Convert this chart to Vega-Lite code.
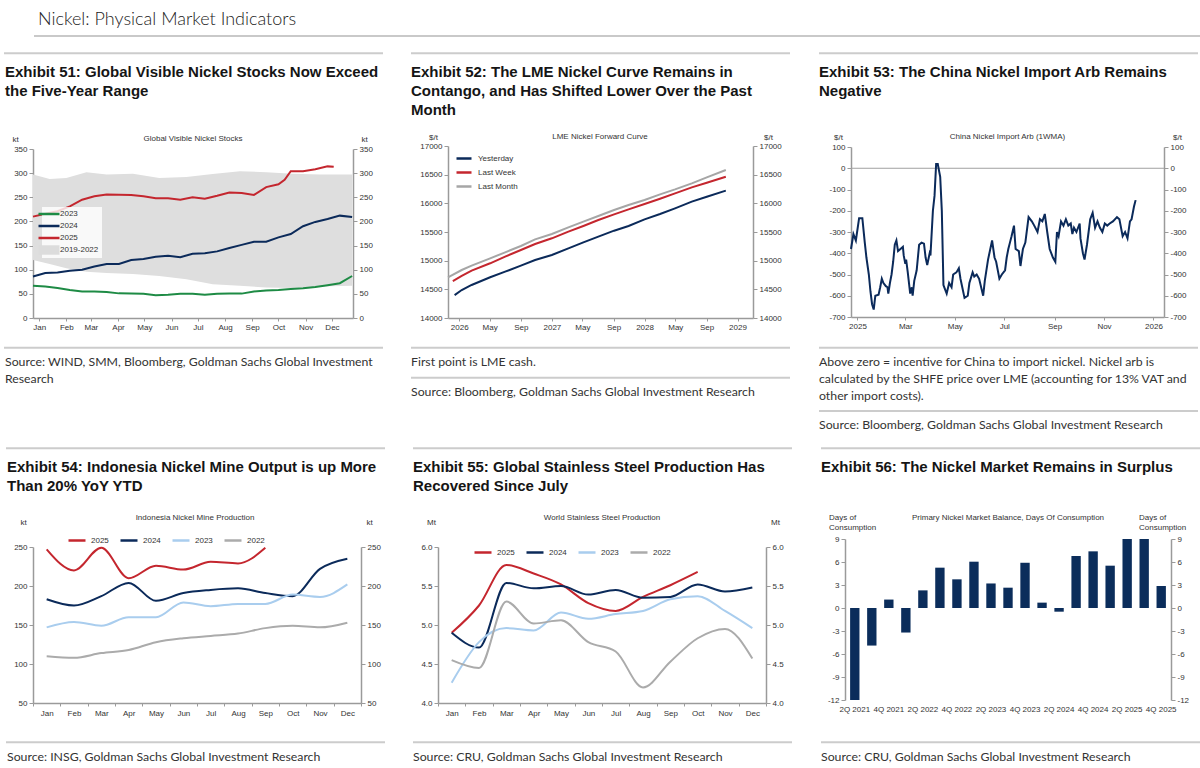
{
"$schema": "https://vega.github.io/schema/vega-lite/v6.json",
"background": "white",
"padding": 0,
"spacing": 0,
"columns": 1,
"align": "none",
"resolve": {"scale": {"color": "independent"}, "legend": {"color": "independent"}},
"config": {
  "view": {"stroke": null},
  "font": "Liberation Sans",
  "axis": {"labelFont": "Liberation Sans", "labelFontSize": 8, "labelColor": "#333333", "titleFont": "Liberation Sans", "titleFontSize": 8, "titleFontWeight": "normal", "titleColor": "#333333", "domainColor": "#9a9a9a", "domainWidth": 1.5, "tickColor": "#9a9a9a", "tickSize": 4, "tickWidth": 1, "grid": false, "labelPadding": 2},
  "legend": {"labelFont": "Liberation Sans", "labelFontSize": 8, "labelColor": "#333333"}
},
"concat": [
 {
  "width": 1200, "height": 38,
  "data": {"values": [{}]},
  "layer": [
   {"mark": {"type": "rule", "strokeOpacity": 0}, "encoding": {"x": {"value": 0}, "x2": {"value": 1200}, "y": {"value": 0}}},
   {"mark": {"type": "rule", "strokeOpacity": 0}, "encoding": {"x": {"value": 0}, "x2": {"value": 1200}, "y": {"value": 38}}},
   {"mark": {"type": "rule", "color": "#c9c9c9", "strokeWidth": 2}, "encoding": {"x": {"value": 1}, "x2": {"value": 1200}, "y": {"value": 36}}},
   {"mark": {"type": "text", "text": "Nickel: Physical Market Indicators", "font": "Lato", "fontWeight": 300, "fontSize": 18, "align": "left", "baseline": "alphabetic", "color": "#222222"}, "encoding": {"x": {"value": 5}, "y": {"value": 25}}}
  ]
 },
 {
  "resolve": {"scale": {"color": "independent"}, "legend": {"color": "independent"}},
  "columns": 3, "align": "none", "spacing": 26,
  "concat": [
   {
    "width": 320, "height": 172,
    "data": {"values": [{}]},
    "resolve": {"axis": {"y": "independent"}},
    "layer": [
     {"mark": {"type": "rule", "strokeOpacity": 0}, "encoding": {"x": {"value": -33}, "x2": {"value": 351}, "y": {"value": -108}}},
     {"mark": {"type": "rule", "strokeOpacity": 0}, "encoding": {"x": {"value": -33}, "x2": {"value": 351}, "y": {"value": 300}}},
     {"mark": {"type": "rule", "color": "#cccccc", "strokeWidth": 2}, "encoding": {"x": {"value": -29}, "x2": {"value": 350}, "y": {"value": -92.7}}},
     {"mark": {"type": "text", "text": "Exhibit 51: Global Visible Nickel Stocks Now Exceed", "font": "Liberation Sans", "fontSize": 15, "fontWeight": "bold", "align": "left", "baseline": "alphabetic", "color": "#151515"}, "encoding": {"x": {"value": -28}, "y": {"value": -69}}},
     {"mark": {"type": "text", "text": "the Five-Year Range", "font": "Liberation Sans", "fontSize": 15, "fontWeight": "bold", "align": "left", "baseline": "alphabetic", "color": "#151515"}, "encoding": {"x": {"value": -28}, "y": {"value": -50}}},
     {"mark": {"type": "text", "text": "Global Visible Nickel Stocks", "font": "Liberation Sans", "fontSize": 8, "align": "center", "baseline": "alphabetic", "color": "#333333"}, "encoding": {"x": {"value": 160}, "y": {"value": -5}}},
     {"mark": {"type": "rule", "color": "#cccccc", "strokeWidth": 2}, "encoding": {"x": {"value": -29}, "x2": {"value": 350}, "y": {"value": 201.7}}},
     {"mark": {"type": "text", "text": "Source: WIND, SMM, Bloomberg, Goldman Sachs Global Investment", "font": "Lato", "fontSize": 12.3, "align": "left", "baseline": "alphabetic", "color": "#333333"}, "encoding": {"x": {"value": -28}, "y": {"value": 220}}},
     {"mark": {"type": "text", "text": "Research", "font": "Lato", "fontSize": 12.3, "align": "left", "baseline": "alphabetic", "color": "#333333"}, "encoding": {"x": {"value": -28}, "y": {"value": 236.5}}},
     {
      "data": {"values": [
       {"date": "2024-12-25", "hi": 297, "lo": 120},
       {"date": "2025-01-13", "hi": 288, "lo": 112},
       {"date": "2025-02-01", "hi": 290, "lo": 103},
       {"date": "2025-02-24", "hi": 302, "lo": 96},
       {"date": "2025-03-19", "hi": 297, "lo": 93},
       {"date": "2025-04-18", "hi": 299, "lo": 91},
       {"date": "2025-05-18", "hi": 290, "lo": 87},
       {"date": "2025-06-18", "hi": 292, "lo": 80},
       {"date": "2025-07-18", "hi": 298, "lo": 70},
       {"date": "2025-08-18", "hi": 304, "lo": 67},
       {"date": "2025-09-17", "hi": 302, "lo": 63},
       {"date": "2025-10-17", "hi": 299, "lo": 62},
       {"date": "2025-11-17", "hi": 297, "lo": 65},
       {"date": "2025-12-24", "hi": 297, "lo": 67}
      ]},
      "mark": {"type": "area", "color": "#dedede"},
      "encoding": {
       "x": {"field": "date", "type": "temporal", "scale": {"type": "utc", "domain": [{"year": 2024, "month": 12, "date": 25, "utc": true}, {"year": 2025, "month": 12, "date": 25, "utc": true}]}, "axis": {"tickCount": {"interval": "month", "step": 1}, "labelExpr": "utcFormat(datum.value, '%b')", "title": null, "tickSize": 3, "labelOverlap": false}},
       "y": {"field": "hi", "type": "quantitative", "scale": {"domain": [0, 350], "nice": false, "range": [172, 3]}, "axis": {"orient": "right", "values": [0, 50, 100, 150, 200, 250, 300, 350], "labelExpr": "toString(datum.value)", "title": "kt", "titleAngle": 0, "titleAlign": "center", "titleBaseline": "alphabetic", "titleX": 11, "titleY": -5}},
       "y2": {"field": "lo"}
      }
     },
     {
      "data": {"values": [
       {"date": "2024-12-25", "series": "2023", "value": 67}, {"date": "2025-01-08", "series": "2023", "value": 65}, {"date": "2025-01-22", "series": "2023", "value": 62}, {"date": "2025-02-05", "series": "2023", "value": 58}, {"date": "2025-02-19", "series": "2023", "value": 55}, {"date": "2025-03-05", "series": "2023", "value": 55}, {"date": "2025-03-19", "series": "2023", "value": 54}, {"date": "2025-04-02", "series": "2023", "value": 51}, {"date": "2025-04-16", "series": "2023", "value": 50.5}, {"date": "2025-04-30", "series": "2023", "value": 50}, {"date": "2025-05-14", "series": "2023", "value": 47}, {"date": "2025-05-28", "series": "2023", "value": 48}, {"date": "2025-06-11", "series": "2023", "value": 50}, {"date": "2025-06-25", "series": "2023", "value": 50}, {"date": "2025-07-09", "series": "2023", "value": 48}, {"date": "2025-07-23", "series": "2023", "value": 50}, {"date": "2025-08-06", "series": "2023", "value": 50.5}, {"date": "2025-08-20", "series": "2023", "value": 50.5}, {"date": "2025-09-03", "series": "2023", "value": 55}, {"date": "2025-09-17", "series": "2023", "value": 57}, {"date": "2025-10-01", "series": "2023", "value": 58}, {"date": "2025-10-15", "series": "2023", "value": 60}, {"date": "2025-10-29", "series": "2023", "value": 61.5}, {"date": "2025-11-12", "series": "2023", "value": 64}, {"date": "2025-11-26", "series": "2023", "value": 68}, {"date": "2025-12-10", "series": "2023", "value": 72}, {"date": "2025-12-24", "series": "2023", "value": 87},
       {"date": "2024-12-25", "series": "2024", "value": 86}, {"date": "2025-01-08", "series": "2024", "value": 93}, {"date": "2025-01-22", "series": "2024", "value": 94}, {"date": "2025-02-05", "series": "2024", "value": 98}, {"date": "2025-02-19", "series": "2024", "value": 100}, {"date": "2025-03-05", "series": "2024", "value": 106.5}, {"date": "2025-03-19", "series": "2024", "value": 112}, {"date": "2025-04-02", "series": "2024", "value": 112}, {"date": "2025-04-16", "series": "2024", "value": 120}, {"date": "2025-04-30", "series": "2024", "value": 122}, {"date": "2025-05-14", "series": "2024", "value": 127}, {"date": "2025-05-28", "series": "2024", "value": 129}, {"date": "2025-06-11", "series": "2024", "value": 126}, {"date": "2025-06-25", "series": "2024", "value": 133}, {"date": "2025-07-09", "series": "2024", "value": 134}, {"date": "2025-07-23", "series": "2024", "value": 138}, {"date": "2025-08-06", "series": "2024", "value": 145}, {"date": "2025-08-20", "series": "2024", "value": 151.5}, {"date": "2025-09-03", "series": "2024", "value": 158}, {"date": "2025-09-17", "series": "2024", "value": 158}, {"date": "2025-10-01", "series": "2024", "value": 167}, {"date": "2025-10-15", "series": "2024", "value": 174}, {"date": "2025-10-29", "series": "2024", "value": 190}, {"date": "2025-11-12", "series": "2024", "value": 199}, {"date": "2025-11-26", "series": "2024", "value": 205}, {"date": "2025-12-10", "series": "2024", "value": 212}, {"date": "2025-12-24", "series": "2024", "value": 209},
       {"date": "2024-12-25", "series": "2025", "value": 210}, {"date": "2025-01-08", "series": "2025", "value": 216}, {"date": "2025-01-22", "series": "2025", "value": 221}, {"date": "2025-02-05", "series": "2025", "value": 231}, {"date": "2025-02-19", "series": "2025", "value": 245}, {"date": "2025-03-05", "series": "2025", "value": 252}, {"date": "2025-03-19", "series": "2025", "value": 256}, {"date": "2025-04-02", "series": "2025", "value": 255}, {"date": "2025-04-16", "series": "2025", "value": 254.5}, {"date": "2025-04-30", "series": "2025", "value": 252}, {"date": "2025-05-14", "series": "2025", "value": 248}, {"date": "2025-05-28", "series": "2025", "value": 248}, {"date": "2025-06-11", "series": "2025", "value": 245}, {"date": "2025-06-25", "series": "2025", "value": 250}, {"date": "2025-07-09", "series": "2025", "value": 247}, {"date": "2025-07-23", "series": "2025", "value": 253}, {"date": "2025-08-06", "series": "2025", "value": 260}, {"date": "2025-08-20", "series": "2025", "value": 259}, {"date": "2025-09-03", "series": "2025", "value": 255}, {"date": "2025-09-17", "series": "2025", "value": 271}, {"date": "2025-10-01", "series": "2025", "value": 277}, {"date": "2025-10-08", "series": "2025", "value": 286}, {"date": "2025-10-15", "series": "2025", "value": 304}, {"date": "2025-10-29", "series": "2025", "value": 304}, {"date": "2025-11-12", "series": "2025", "value": 308}, {"date": "2025-11-26", "series": "2025", "value": 314}, {"date": "2025-12-03", "series": "2025", "value": 313}
      ]},
      "mark": {"type": "line", "strokeWidth": 2},
      "encoding": {
       "x": {"field": "date", "type": "temporal"},
       "y": {"field": "value", "type": "quantitative", "axis": {"orient": "left", "values": [0, 50, 100, 150, 200, 250, 300, 350], "labelExpr": "toString(datum.value)", "title": "kt", "titleAngle": 0, "titleAlign": "center", "titleBaseline": "alphabetic", "titleX": -18, "titleY": -5}},
       "color": {"field": "series", "type": "nominal", "scale": {"domain": ["2023", "2024", "2025", "2019-2022"], "range": ["#1e8b45", "#0b2a5a", "#c4262e", "#dcdcdc"]},
        "legend": {"title": null, "orient": "none", "legendX": 9, "legendY": 61, "symbolType": "stroke", "symbolSize": 441, "symbolStrokeWidth": 2.5, "labelOffset": 7, "rowPadding": 2, "padding": 3, "fillColor": "rgba(255,255,255,0.8)",
         "encode": {"symbols": {"update": {
          "shape": {"signal": "datum.value === '2019-2022' ? 'M-1,-0.45H1V0.45H-1Z' : 'stroke'"},
          "fill": {"signal": "datum.value === '2019-2022' ? '#dcdcdc' : 'transparent'"},
          "strokeWidth": {"signal": "datum.value === '2019-2022' ? 0 : 2.5"}
         }}}}}
      }
     }
    ]
   },
   {
    "width": 305, "height": 172,
    "data": {"values": [{}]},
    "resolve": {"axis": {"y": "independent"}},
    "layer": [
     {"mark": {"type": "rule", "strokeOpacity": 0}, "encoding": {"x": {"value": -38}, "x2": {"value": 344}, "y": {"value": -108}}},
     {"mark": {"type": "rule", "strokeOpacity": 0}, "encoding": {"x": {"value": -38}, "x2": {"value": 344}, "y": {"value": 300}}},
     {"mark": {"type": "rule", "color": "#cccccc", "strokeWidth": 2}, "encoding": {"x": {"value": -37}, "x2": {"value": 342}, "y": {"value": -92.7}}},
     {"mark": {"type": "text", "text": "Exhibit 52: The LME Nickel Curve Remains in", "font": "Liberation Sans", "fontSize": 15, "fontWeight": "bold", "align": "left", "baseline": "alphabetic", "color": "#151515"}, "encoding": {"x": {"value": -37}, "y": {"value": -69}}},
     {"mark": {"type": "text", "text": "Contango, and Has Shifted Lower Over the Past", "font": "Liberation Sans", "fontSize": 15, "fontWeight": "bold", "align": "left", "baseline": "alphabetic", "color": "#151515"}, "encoding": {"x": {"value": -37}, "y": {"value": -50}}},
     {"mark": {"type": "text", "text": "Month", "font": "Liberation Sans", "fontSize": 15, "fontWeight": "bold", "align": "left", "baseline": "alphabetic", "color": "#151515"}, "encoding": {"x": {"value": -37}, "y": {"value": -31}}},
     {"mark": {"type": "text", "text": "LME Nickel Forward Curve", "font": "Liberation Sans", "fontSize": 8, "align": "center", "baseline": "alphabetic", "color": "#333333"}, "encoding": {"x": {"value": 152}, "y": {"value": -7}}},
     {"mark": {"type": "rule", "color": "#cccccc", "strokeWidth": 2}, "encoding": {"x": {"value": -37}, "x2": {"value": 342}, "y": {"value": 201.7}}},
     {"mark": {"type": "text", "text": "First point is LME cash.", "font": "Lato", "fontSize": 12.3, "align": "left", "baseline": "alphabetic", "color": "#333333"}, "encoding": {"x": {"value": -37}, "y": {"value": 220}}},
     {"mark": {"type": "rule", "color": "#cccccc", "strokeWidth": 2}, "encoding": {"x": {"value": -37}, "x2": {"value": 342}, "y": {"value": 231.7}}},
     {"mark": {"type": "text", "text": "Source: Bloomberg, Goldman Sachs Global Investment Research", "font": "Lato", "fontSize": 12.3, "align": "left", "baseline": "alphabetic", "color": "#333333"}, "encoding": {"x": {"value": -37}, "y": {"value": 250}}},
     {
      "data": {"values": [
       {"date": "2025-12-14", "series": "Yesterday", "price": 14400}, {"date": "2026-01-11", "series": "Yesterday", "price": 14488}, {"date": "2026-02-19", "series": "Yesterday", "price": 14576}, {"date": "2026-05-03", "series": "Yesterday", "price": 14710}, {"date": "2026-07-01", "series": "Yesterday", "price": 14808}, {"date": "2026-09-01", "series": "Yesterday", "price": 14913}, {"date": "2026-10-27", "series": "Yesterday", "price": 15012}, {"date": "2027-01-01", "series": "Yesterday", "price": 15099}, {"date": "2027-03-07", "series": "Yesterday", "price": 15215}, {"date": "2027-05-05", "series": "Yesterday", "price": 15320}, {"date": "2027-07-03", "series": "Yesterday", "price": 15419}, {"date": "2027-09-03", "series": "Yesterday", "price": 15523}, {"date": "2027-10-30", "series": "Yesterday", "price": 15605}, {"date": "2028-01-01", "series": "Yesterday", "price": 15721}, {"date": "2028-03-02", "series": "Yesterday", "price": 15814}, {"date": "2028-04-30", "series": "Yesterday", "price": 15913}, {"date": "2028-07-05", "series": "Yesterday", "price": 16029}, {"date": "2028-09-02", "series": "Yesterday", "price": 16116}, {"date": "2028-11-16", "series": "Yesterday", "price": 16221},
       {"date": "2025-12-07", "series": "Last Week", "price": 14645}, {"date": "2026-01-11", "series": "Last Week", "price": 14733}, {"date": "2026-02-19", "series": "Last Week", "price": 14826}, {"date": "2026-05-03", "series": "Last Week", "price": 14954}, {"date": "2026-07-01", "series": "Last Week", "price": 15070}, {"date": "2026-09-01", "series": "Last Week", "price": 15186}, {"date": "2026-10-27", "series": "Last Week", "price": 15291}, {"date": "2027-01-01", "series": "Last Week", "price": 15390}, {"date": "2027-03-07", "series": "Last Week", "price": 15506}, {"date": "2027-05-05", "series": "Last Week", "price": 15605}, {"date": "2027-07-03", "series": "Last Week", "price": 15709}, {"date": "2027-09-03", "series": "Last Week", "price": 15808}, {"date": "2027-10-30", "series": "Last Week", "price": 15895}, {"date": "2028-01-01", "series": "Last Week", "price": 15988}, {"date": "2028-03-02", "series": "Last Week", "price": 16081}, {"date": "2028-04-30", "series": "Last Week", "price": 16174}, {"date": "2028-07-05", "series": "Last Week", "price": 16279}, {"date": "2028-09-02", "series": "Last Week", "price": 16360}, {"date": "2028-11-16", "series": "Last Week", "price": 16465},
       {"date": "2025-11-18", "series": "Last Month", "price": 14710}, {"date": "2026-01-11", "series": "Last Month", "price": 14837}, {"date": "2026-02-19", "series": "Last Month", "price": 14913}, {"date": "2026-05-03", "series": "Last Month", "price": 15041}, {"date": "2026-07-01", "series": "Last Month", "price": 15145}, {"date": "2026-09-01", "series": "Last Month", "price": 15256}, {"date": "2026-10-27", "series": "Last Month", "price": 15372}, {"date": "2027-01-01", "series": "Last Month", "price": 15465}, {"date": "2027-03-07", "series": "Last Month", "price": 15581}, {"date": "2027-05-05", "series": "Last Month", "price": 15680}, {"date": "2027-07-03", "series": "Last Month", "price": 15779}, {"date": "2027-09-03", "series": "Last Month", "price": 15884}, {"date": "2027-10-30", "series": "Last Month", "price": 15971}, {"date": "2028-01-01", "series": "Last Month", "price": 16058}, {"date": "2028-03-02", "series": "Last Month", "price": 16157}, {"date": "2028-04-30", "series": "Last Month", "price": 16244}, {"date": "2028-07-05", "series": "Last Month", "price": 16349}, {"date": "2028-09-02", "series": "Last Month", "price": 16453}, {"date": "2028-11-16", "series": "Last Month", "price": 16581}
      ]},
      "mark": {"type": "line", "strokeWidth": 2},
      "encoding": {
       "x": {"field": "date", "type": "temporal", "scale": {"type": "utc", "domain": [{"year": 2025, "month": 11, "date": 18, "utc": true}, {"year": 2029, "month": 3, "date": 3, "utc": true}]}, "axis": {"tickCount": {"interval": "month", "step": 4}, "labelExpr": "utcFormat(datum.value, '%m') == '01' ? utcFormat(datum.value, '%Y') : utcFormat(datum.value, '%b')", "title": null, "tickSize": 3, "labelOverlap": false}},
       "y": {"field": "price", "type": "quantitative", "scale": {"domain": [14000, 17000], "nice": false, "zero": false}, "axis": {"orient": "left", "values": [14000, 14500, 15000, 15500, 16000, 16500, 17000], "labelExpr": "toString(datum.value)", "title": "$/t", "titleAngle": 0, "titleAlign": "center", "titleBaseline": "alphabetic", "titleX": -15, "titleY": -7}},
       "color": {"field": "series", "type": "nominal", "sort": ["Yesterday", "Last Week", "Last Month"], "scale": {"domain": ["Yesterday", "Last Week", "Last Month"], "range": ["#0b2a5a", "#c4262e", "#a6a6a6"]},
        "legend": {"title": null, "orient": "none", "legendX": 7, "legendY": 3.5, "symbolType": "stroke", "symbolSize": 225, "symbolStrokeWidth": 2.5, "labelOffset": 5, "rowPadding": 0, "padding": 0}}
      }
     },
     {"mark": {"type": "rule", "opacity": 0}, "encoding": {"y": {"datum": 17000, "type": "quantitative", "axis": {"orient": "right", "values": [14000, 14500, 15000, 15500, 16000, 16500, 17000], "labelExpr": "toString(datum.value)", "title": "$/t", "titleAngle": 0, "titleAlign": "center", "titleBaseline": "alphabetic", "titleX": 15, "titleY": -7}}}}
    ]
   },
   {
    "width": 313, "height": 171,
    "data": {"values": [{}]},
    "resolve": {"axis": {"y": "independent"}},
    "layer": [
     {"mark": {"type": "rule", "strokeOpacity": 0}, "encoding": {"x": {"value": -33}, "x2": {"value": 348}, "y": {"value": -108}}},
     {"mark": {"type": "rule", "strokeOpacity": 0}, "encoding": {"x": {"value": -33}, "x2": {"value": 348}, "y": {"value": 300}}},
     {"mark": {"type": "rule", "color": "#cccccc", "strokeWidth": 2}, "encoding": {"x": {"value": -32}, "x2": {"value": 347}, "y": {"value": -92.7}}},
     {"mark": {"type": "text", "text": "Exhibit 53: The China Nickel Import Arb Remains", "font": "Liberation Sans", "fontSize": 15, "fontWeight": "bold", "align": "left", "baseline": "alphabetic", "color": "#151515"}, "encoding": {"x": {"value": -32}, "y": {"value": -69}}},
     {"mark": {"type": "text", "text": "Negative", "font": "Liberation Sans", "fontSize": 15, "fontWeight": "bold", "align": "left", "baseline": "alphabetic", "color": "#151515"}, "encoding": {"x": {"value": -32}, "y": {"value": -50}}},
     {"mark": {"type": "text", "text": "China Nickel Import Arb (1WMA)", "font": "Liberation Sans", "fontSize": 8, "align": "center", "baseline": "alphabetic", "color": "#333333"}, "encoding": {"x": {"value": 156.5}, "y": {"value": -7}}},
     {"mark": {"type": "rule", "color": "#cccccc", "strokeWidth": 2}, "encoding": {"x": {"value": -32}, "x2": {"value": 347}, "y": {"value": 201.7}}},
     {"mark": {"type": "text", "text": "Above zero = incentive for China to import nickel. Nickel arb is", "font": "Lato", "fontSize": 12.3, "align": "left", "baseline": "alphabetic", "color": "#333333"}, "encoding": {"x": {"value": -32}, "y": {"value": 220}}},
     {"mark": {"type": "text", "text": "calculated by the SHFE price over LME (accounting for 13% VAT and", "font": "Lato", "fontSize": 12.3, "align": "left", "baseline": "alphabetic", "color": "#333333"}, "encoding": {"x": {"value": -32}, "y": {"value": 237}}},
     {"mark": {"type": "text", "text": "other import costs).", "font": "Lato", "fontSize": 12.3, "align": "left", "baseline": "alphabetic", "color": "#333333"}, "encoding": {"x": {"value": -32}, "y": {"value": 254}}},
     {"mark": {"type": "rule", "color": "#cccccc", "strokeWidth": 2}, "encoding": {"x": {"value": -32}, "x2": {"value": 347}, "y": {"value": 265}}},
     {"mark": {"type": "text", "text": "Source: Bloomberg, Goldman Sachs Global Investment Research", "font": "Lato", "fontSize": 12.3, "align": "left", "baseline": "alphabetic", "color": "#333333"}, "encoding": {"x": {"value": -32}, "y": {"value": 283}}},
     {"mark": {"type": "rule", "color": "#a0a0a0", "strokeWidth": 1}, "encoding": {"y": {"datum": 0, "type": "quantitative", "axis": {"orient": "right", "values": [-700, -600, -500, -400, -300, -200, -100, 0, 100], "labelExpr": "toString(datum.value)", "title": "$/t", "titleAngle": 0, "titleAlign": "center", "titleBaseline": "alphabetic", "titleX": 13, "titleY": -7}}}},
     {
      "data": {"values": [
       {"date": "2024-12-24", "arb": -380}, {"date": "2024-12-27", "arb": -310}, {"date": "2024-12-30", "arb": -340}, {"date": "2025-01-03", "arb": -235}, {"date": "2025-01-07", "arb": -235}, {"date": "2025-01-10", "arb": -350}, {"date": "2025-01-12", "arb": -420}, {"date": "2025-01-15", "arb": -500}, {"date": "2025-01-17", "arb": -580}, {"date": "2025-01-19", "arb": -640}, {"date": "2025-01-21", "arb": -665}, {"date": "2025-01-23", "arb": -600}, {"date": "2025-01-27", "arb": -595}, {"date": "2025-01-29", "arb": -560}, {"date": "2025-01-31", "arb": -520}, {"date": "2025-02-02", "arb": -540}, {"date": "2025-02-05", "arb": -555}, {"date": "2025-02-07", "arb": -560}, {"date": "2025-02-08", "arb": -590}, {"date": "2025-02-10", "arb": -540}, {"date": "2025-02-12", "arb": -500}, {"date": "2025-02-14", "arb": -440}, {"date": "2025-02-16", "arb": -360}, {"date": "2025-02-18", "arb": -340}, {"date": "2025-02-20", "arb": -390}, {"date": "2025-02-23", "arb": -380}, {"date": "2025-02-26", "arb": -370}, {"date": "2025-02-27", "arb": -410}, {"date": "2025-03-01", "arb": -450}, {"date": "2025-03-02", "arb": -430}, {"date": "2025-03-04", "arb": -490}, {"date": "2025-03-07", "arb": -590}, {"date": "2025-03-09", "arb": -560}, {"date": "2025-03-10", "arb": -600}, {"date": "2025-03-12", "arb": -530}, {"date": "2025-03-15", "arb": -480}, {"date": "2025-03-18", "arb": -360}, {"date": "2025-03-21", "arb": -350}, {"date": "2025-03-24", "arb": -355}, {"date": "2025-03-26", "arb": -420}, {"date": "2025-03-28", "arb": -455}, {"date": "2025-03-31", "arb": -400}, {"date": "2025-04-01", "arb": -410}, {"date": "2025-04-04", "arb": -200}, {"date": "2025-04-06", "arb": -130}, {"date": "2025-04-08", "arb": 20}, {"date": "2025-04-10", "arb": 20}, {"date": "2025-04-13", "arb": -40}, {"date": "2025-04-15", "arb": -200}, {"date": "2025-04-17", "arb": -550}, {"date": "2025-04-19", "arb": -570}, {"date": "2025-04-21", "arb": -590}, {"date": "2025-04-24", "arb": -540}, {"date": "2025-04-27", "arb": -560}, {"date": "2025-04-29", "arb": -500}, {"date": "2025-05-03", "arb": -490}, {"date": "2025-05-06", "arb": -470}, {"date": "2025-05-08", "arb": -520}, {"date": "2025-05-13", "arb": -610}, {"date": "2025-05-17", "arb": -600}, {"date": "2025-05-19", "arb": -540}, {"date": "2025-05-23", "arb": -490}, {"date": "2025-05-25", "arb": -510}, {"date": "2025-05-28", "arb": -500}, {"date": "2025-05-31", "arb": -520}, {"date": "2025-06-05", "arb": -600}, {"date": "2025-06-07", "arb": -530}, {"date": "2025-06-11", "arb": -430}, {"date": "2025-06-16", "arb": -340}, {"date": "2025-06-19", "arb": -420}, {"date": "2025-06-21", "arb": -440}, {"date": "2025-06-25", "arb": -520}, {"date": "2025-06-28", "arb": -500}, {"date": "2025-07-02", "arb": -480}, {"date": "2025-07-04", "arb": -420}, {"date": "2025-07-06", "arb": -380}, {"date": "2025-07-08", "arb": -350}, {"date": "2025-07-10", "arb": -320}, {"date": "2025-07-13", "arb": -270}, {"date": "2025-07-15", "arb": -380}, {"date": "2025-07-19", "arb": -390}, {"date": "2025-07-21", "arb": -460}, {"date": "2025-07-24", "arb": -380}, {"date": "2025-07-27", "arb": -350}, {"date": "2025-07-31", "arb": -230}, {"date": "2025-08-04", "arb": -250}, {"date": "2025-08-07", "arb": -270}, {"date": "2025-08-11", "arb": -300}, {"date": "2025-08-14", "arb": -240}, {"date": "2025-08-17", "arb": -250}, {"date": "2025-08-20", "arb": -215}, {"date": "2025-08-23", "arb": -300}, {"date": "2025-08-26", "arb": -380}, {"date": "2025-08-30", "arb": -420}, {"date": "2025-09-02", "arb": -440}, {"date": "2025-09-04", "arb": -300}, {"date": "2025-09-06", "arb": -320}, {"date": "2025-09-09", "arb": -250}, {"date": "2025-09-12", "arb": -270}, {"date": "2025-09-15", "arb": -240}, {"date": "2025-09-18", "arb": -270}, {"date": "2025-09-21", "arb": -260}, {"date": "2025-09-23", "arb": -310}, {"date": "2025-09-25", "arb": -280}, {"date": "2025-09-28", "arb": -300}, {"date": "2025-10-02", "arb": -260}, {"date": "2025-10-03", "arb": -330}, {"date": "2025-10-06", "arb": -400}, {"date": "2025-10-08", "arb": -430}, {"date": "2025-10-11", "arb": -360}, {"date": "2025-10-15", "arb": -240}, {"date": "2025-10-18", "arb": -210}, {"date": "2025-10-21", "arb": -280}, {"date": "2025-10-24", "arb": -250}, {"date": "2025-10-27", "arb": -280}, {"date": "2025-10-30", "arb": -300}, {"date": "2025-11-02", "arb": -260}, {"date": "2025-11-05", "arb": -270}, {"date": "2025-11-08", "arb": -260}, {"date": "2025-11-12", "arb": -250}, {"date": "2025-11-17", "arb": -230}, {"date": "2025-11-20", "arb": -240}, {"date": "2025-11-24", "arb": -320}, {"date": "2025-11-27", "arb": -300}, {"date": "2025-11-30", "arb": -330}, {"date": "2025-12-03", "arb": -250}, {"date": "2025-12-05", "arb": -240}, {"date": "2025-12-08", "arb": -180}, {"date": "2025-12-10", "arb": -150}
      ]},
      "mark": {"type": "line", "strokeWidth": 2, "color": "#0b2a5a"},
      "encoding": {
       "x": {"field": "date", "type": "temporal", "scale": {"type": "utc", "domain": [{"year": 2024, "month": 12, "date": 24, "utc": true}, {"year": 2026, "month": 1, "date": 14, "utc": true}]}, "axis": {"tickCount": {"interval": "month", "step": 2}, "labelExpr": "utcFormat(datum.value, '%m') == '01' ? utcFormat(datum.value, '%Y') : utcFormat(datum.value, '%b')", "title": null, "tickSize": 3, "labelOverlap": false}},
       "y": {"field": "arb", "type": "quantitative", "scale": {"domain": [-700, 100], "nice": false, "zero": false, "range": [171, 1]}, "axis": {"orient": "left", "values": [-700, -600, -500, -400, -300, -200, -100, 0, 100], "labelExpr": "toString(datum.value)", "title": "$/t", "titleAngle": 0, "titleAlign": "center", "titleBaseline": "alphabetic", "titleX": -13, "titleY": -7}}
      }
     }
    ]
   }
  ]
 },
 {
  "resolve": {"scale": {"color": "independent"}, "legend": {"color": "independent"}},
  "columns": 3, "align": "none", "spacing": 26,
  "concat": [
   {
    "width": 328, "height": 164,
    "data": {"values": [{}]},
    "resolve": {"axis": {"y": "independent"}},
    "layer": [
     {"mark": {"type": "rule", "strokeOpacity": 0}, "encoding": {"x": {"value": -31}, "x2": {"value": 353}, "y": {"value": -93}}},
     {"mark": {"type": "rule", "color": "#cccccc", "strokeWidth": 2}, "encoding": {"x": {"value": -27}, "x2": {"value": 352}, "y": {"value": -90.7}}},
     {"mark": {"type": "text", "text": "Exhibit 54: Indonesia Nickel Mine Output is up More", "font": "Liberation Sans", "fontSize": 15, "fontWeight": "bold", "align": "left", "baseline": "alphabetic", "color": "#151515"}, "encoding": {"x": {"value": -26}, "y": {"value": -67.5}}},
     {"mark": {"type": "text", "text": "Than 20% YoY YTD", "font": "Liberation Sans", "fontSize": 15, "fontWeight": "bold", "align": "left", "baseline": "alphabetic", "color": "#151515"}, "encoding": {"x": {"value": -26}, "y": {"value": -48.5}}},
     {"mark": {"type": "text", "text": "Indonesia Nickel Mine Production", "font": "Liberation Sans", "fontSize": 8, "align": "center", "baseline": "alphabetic", "color": "#333333"}, "encoding": {"x": {"value": 162}, "y": {"value": -19}}},
     {"mark": {"type": "rule", "color": "#cccccc", "strokeWidth": 2}, "encoding": {"x": {"value": -27}, "x2": {"value": 352}, "y": {"value": 203.3}}},
     {"mark": {"type": "text", "text": "Source: INSG, Goldman Sachs Global Investment Research", "font": "Lato", "fontSize": 12.3, "align": "left", "baseline": "alphabetic", "color": "#333333"}, "encoding": {"x": {"value": -26}, "y": {"value": 222}}},
     {"mark": {"type": "rule", "opacity": 0}, "encoding": {"y": {"datum": 250, "type": "quantitative", "axis": {"orient": "right", "values": [50, 100, 150, 200, 250], "labelExpr": "toString(datum.value)", "title": "kt", "titleAngle": 0, "titleAlign": "center", "titleBaseline": "alphabetic", "titleX": 8, "titleY": -15}}}},
     {
      "data": {"values": [
       {"month": "Jan", "series": "2025", "v": 247}, {"month": "Feb", "series": "2025", "v": 220}, {"month": "Mar", "series": "2025", "v": 249}, {"month": "Apr", "series": "2025", "v": 210}, {"month": "May", "series": "2025", "v": 226}, {"month": "Jun", "series": "2025", "v": 221}, {"month": "Jul", "series": "2025", "v": 231}, {"month": "Aug", "series": "2025", "v": 229}, {"month": "Sep", "series": "2025", "v": 249},
       {"month": "Jan", "series": "2024", "v": 183}, {"month": "Feb", "series": "2024", "v": 175}, {"month": "Mar", "series": "2024", "v": 187}, {"month": "Apr", "series": "2024", "v": 204}, {"month": "May", "series": "2024", "v": 181}, {"month": "Jun", "series": "2024", "v": 191}, {"month": "Jul", "series": "2024", "v": 195}, {"month": "Aug", "series": "2024", "v": 197}, {"month": "Sep", "series": "2024", "v": 191}, {"month": "Oct", "series": "2024", "v": 187}, {"month": "Nov", "series": "2024", "v": 222}, {"month": "Dec", "series": "2024", "v": 235},
       {"month": "Jan", "series": "2023", "v": 147}, {"month": "Feb", "series": "2023", "v": 154}, {"month": "Mar", "series": "2023", "v": 149}, {"month": "Apr", "series": "2023", "v": 160}, {"month": "May", "series": "2023", "v": 160}, {"month": "Jun", "series": "2023", "v": 179}, {"month": "Jul", "series": "2023", "v": 174}, {"month": "Aug", "series": "2023", "v": 177}, {"month": "Sep", "series": "2023", "v": 177}, {"month": "Oct", "series": "2023", "v": 189}, {"month": "Nov", "series": "2023", "v": 186}, {"month": "Dec", "series": "2023", "v": 202},
       {"month": "Jan", "series": "2022", "v": 110}, {"month": "Feb", "series": "2022", "v": 108}, {"month": "Mar", "series": "2022", "v": 114}, {"month": "Apr", "series": "2022", "v": 118}, {"month": "May", "series": "2022", "v": 128}, {"month": "Jun", "series": "2022", "v": 133}, {"month": "Jul", "series": "2022", "v": 136}, {"month": "Aug", "series": "2022", "v": 139}, {"month": "Sep", "series": "2022", "v": 146}, {"month": "Oct", "series": "2022", "v": 149}, {"month": "Nov", "series": "2022", "v": 147}, {"month": "Dec", "series": "2022", "v": 153}
      ]},
      "mark": {"type": "line", "strokeWidth": 2, "interpolate": "monotone"},
      "encoding": {
       "x": {"field": "month", "type": "ordinal", "sort": ["Jan", "Feb", "Mar", "Apr", "May", "Jun", "Jul", "Aug", "Sep", "Oct", "Nov", "Dec"], "scale": {"type": "band", "paddingInner": 0, "paddingOuter": 0}, "bandPosition": 0.5, "axis": {"tickBand": "extent", "title": null, "labelAngle": 0, "tickSize": 3, "labelOverlap": false, "labelPadding": 3}},
       "y": {"field": "v", "type": "quantitative", "scale": {"domain": [50, 250], "nice": false, "zero": false, "range": [164, 8]}, "axis": {"orient": "left", "values": [50, 100, 150, 200, 250], "labelExpr": "toString(datum.value)", "title": "kt", "titleAngle": 0, "titleAlign": "center", "titleBaseline": "alphabetic", "titleX": -10, "titleY": -15}},
       "color": {"field": "series", "type": "nominal", "sort": ["2025", "2024", "2023", "2022"], "scale": {"domain": ["2025", "2024", "2023", "2022"], "range": ["#c4262e", "#0b2a5a", "#a9cdee", "#ababab"]},
        "legend": {"title": null, "orient": "none", "legendX": 34, "legendY": -8.5, "direction": "horizontal", "symbolType": "stroke", "symbolSize": 289, "symbolStrokeWidth": 2.5, "labelOffset": 4, "columnPadding": 6, "padding": 0}}
      }
     }
    ]
   },
   {
    "width": 328, "height": 164,
    "data": {"values": [{}]},
    "resolve": {"axis": {"y": "independent"}},
    "layer": [
     {"mark": {"type": "rule", "strokeOpacity": 0}, "encoding": {"x": {"value": -26}, "x2": {"value": 356}, "y": {"value": -93}}},
     {"mark": {"type": "rule", "color": "#cccccc", "strokeWidth": 2}, "encoding": {"x": {"value": -25}, "x2": {"value": 354}, "y": {"value": -90.7}}},
     {"mark": {"type": "text", "text": "Exhibit 55: Global Stainless Steel Production Has", "font": "Liberation Sans", "fontSize": 15, "fontWeight": "bold", "align": "left", "baseline": "alphabetic", "color": "#151515"}, "encoding": {"x": {"value": -25}, "y": {"value": -67.5}}},
     {"mark": {"type": "text", "text": "Recovered Since July", "font": "Liberation Sans", "fontSize": 15, "fontWeight": "bold", "align": "left", "baseline": "alphabetic", "color": "#151515"}, "encoding": {"x": {"value": -25}, "y": {"value": -48.5}}},
     {"mark": {"type": "text", "text": "World Stainless Steel Production", "font": "Liberation Sans", "fontSize": 8, "align": "center", "baseline": "alphabetic", "color": "#333333"}, "encoding": {"x": {"value": 164}, "y": {"value": -19}}},
     {"mark": {"type": "rule", "color": "#cccccc", "strokeWidth": 2}, "encoding": {"x": {"value": -25}, "x2": {"value": 354}, "y": {"value": 203.3}}},
     {"mark": {"type": "text", "text": "Source: CRU, Goldman Sachs Global Investment Research", "font": "Lato", "fontSize": 12.3, "align": "left", "baseline": "alphabetic", "color": "#333333"}, "encoding": {"x": {"value": -25}, "y": {"value": 222}}},
     {"mark": {"type": "rule", "opacity": 0}, "encoding": {"y": {"datum": 6, "type": "quantitative", "axis": {"orient": "right", "values": [4, 4.5, 5, 5.5, 6], "format": ".1f", "title": "Mt", "titleAngle": 0, "titleAlign": "center", "titleBaseline": "alphabetic", "titleX": 9, "titleY": -15}}}},
     {
      "data": {"values": [
       {"month": "Jan", "series": "2025", "v": 4.90}, {"month": "Feb", "series": "2025", "v": 5.25}, {"month": "Mar", "series": "2025", "v": 5.77}, {"month": "Apr", "series": "2025", "v": 5.66}, {"month": "May", "series": "2025", "v": 5.52}, {"month": "Jun", "series": "2025", "v": 5.28}, {"month": "Jul", "series": "2025", "v": 5.18}, {"month": "Aug", "series": "2025", "v": 5.36}, {"month": "Sep", "series": "2025", "v": 5.51}, {"month": "Oct", "series": "2025", "v": 5.68},
       {"month": "Jan", "series": "2024", "v": 4.90}, {"month": "Feb", "series": "2024", "v": 4.71}, {"month": "Mar", "series": "2024", "v": 5.54}, {"month": "Apr", "series": "2024", "v": 5.47}, {"month": "May", "series": "2024", "v": 5.50}, {"month": "Jun", "series": "2024", "v": 5.39}, {"month": "Jul", "series": "2024", "v": 5.45}, {"month": "Aug", "series": "2024", "v": 5.35}, {"month": "Sep", "series": "2024", "v": 5.36}, {"month": "Oct", "series": "2024", "v": 5.52}, {"month": "Nov", "series": "2024", "v": 5.43}, {"month": "Dec", "series": "2024", "v": 5.48},
       {"month": "Jan", "series": "2023", "v": 4.26}, {"month": "Feb", "series": "2023", "v": 4.78}, {"month": "Mar", "series": "2023", "v": 4.96}, {"month": "Apr", "series": "2023", "v": 4.93}, {"month": "May", "series": "2023", "v": 5.16}, {"month": "Jun", "series": "2023", "v": 5.08}, {"month": "Jul", "series": "2023", "v": 5.14}, {"month": "Aug", "series": "2023", "v": 5.18}, {"month": "Sep", "series": "2023", "v": 5.33}, {"month": "Oct", "series": "2023", "v": 5.37}, {"month": "Nov", "series": "2023", "v": 5.18}, {"month": "Dec", "series": "2023", "v": 4.96},
       {"month": "Jan", "series": "2022", "v": 4.55}, {"month": "Feb", "series": "2022", "v": 4.45}, {"month": "Mar", "series": "2022", "v": 5.30}, {"month": "Apr", "series": "2022", "v": 5.02}, {"month": "May", "series": "2022", "v": 5.06}, {"month": "Jun", "series": "2022", "v": 4.78}, {"month": "Jul", "series": "2022", "v": 4.66}, {"month": "Aug", "series": "2022", "v": 4.20}, {"month": "Sep", "series": "2022", "v": 4.53}, {"month": "Oct", "series": "2022", "v": 4.83}, {"month": "Nov", "series": "2022", "v": 4.95}, {"month": "Dec", "series": "2022", "v": 4.57}
      ]},
      "mark": {"type": "line", "strokeWidth": 2, "interpolate": "monotone"},
      "encoding": {
       "x": {"field": "month", "type": "ordinal", "sort": ["Jan", "Feb", "Mar", "Apr", "May", "Jun", "Jul", "Aug", "Sep", "Oct", "Nov", "Dec"], "scale": {"type": "band", "paddingInner": 0, "paddingOuter": 0}, "bandPosition": 0.5, "axis": {"tickBand": "extent", "title": null, "labelAngle": 0, "tickSize": 3, "labelOverlap": false, "labelPadding": 3}},
       "y": {"field": "v", "type": "quantitative", "scale": {"domain": [4, 6], "nice": false, "zero": false, "range": [164, 8]}, "axis": {"orient": "left", "values": [4, 4.5, 5, 5.5, 6], "format": ".1f", "title": "Mt", "titleAngle": 0, "titleAlign": "center", "titleBaseline": "alphabetic", "titleX": -7, "titleY": -15}},
       "color": {"field": "series", "type": "nominal", "sort": ["2025", "2024", "2023", "2022"], "scale": {"domain": ["2025", "2024", "2023", "2022"], "range": ["#c4262e", "#0b2a5a", "#a9cdee", "#ababab"]},
        "legend": {"title": null, "orient": "none", "legendX": 35, "legendY": 3.5, "direction": "horizontal", "symbolType": "stroke", "symbolSize": 289, "symbolStrokeWidth": 2.5, "labelOffset": 4, "columnPadding": 6, "padding": 0}}
      }
     }
    ]
   },
   {
    "width": 326, "height": 161,
    "data": {"values": [{}]},
    "resolve": {"axis": {"y": "independent"}},
    "layer": [
     {"mark": {"type": "rule", "strokeOpacity": 0}, "encoding": {"x": {"value": -25}, "x2": {"value": 356}, "y": {"value": -93}}},
     {"mark": {"type": "rule", "color": "#cccccc", "strokeWidth": 2}, "encoding": {"x": {"value": -24}, "x2": {"value": 355}, "y": {"value": -90.7}}},
     {"mark": {"type": "text", "text": "Exhibit 56: The Nickel Market Remains in Surplus", "font": "Liberation Sans", "fontSize": 15, "fontWeight": "bold", "align": "left", "baseline": "alphabetic", "color": "#151515"}, "encoding": {"x": {"value": -24}, "y": {"value": -67.5}}},
     {"mark": {"type": "text", "text": "Primary Nickel Market Balance, Days Of Consumption", "font": "Liberation Sans", "fontSize": 8, "align": "center", "baseline": "alphabetic", "color": "#333333"}, "encoding": {"x": {"value": 163}, "y": {"value": -19}}},
     {"mark": {"type": "text", "text": "Days of", "font": "Liberation Sans", "fontSize": 8, "align": "left", "baseline": "alphabetic", "color": "#333333"}, "encoding": {"x": {"value": -16}, "y": {"value": -19}}},
     {"mark": {"type": "text", "text": "Consumption", "font": "Liberation Sans", "fontSize": 8, "align": "left", "baseline": "alphabetic", "color": "#333333"}, "encoding": {"x": {"value": -16}, "y": {"value": -9}}},
     {"mark": {"type": "text", "text": "Days of", "font": "Liberation Sans", "fontSize": 8, "align": "left", "baseline": "alphabetic", "color": "#333333"}, "encoding": {"x": {"value": 294}, "y": {"value": -19}}},
     {"mark": {"type": "text", "text": "Consumption", "font": "Liberation Sans", "fontSize": 8, "align": "left", "baseline": "alphabetic", "color": "#333333"}, "encoding": {"x": {"value": 294}, "y": {"value": -9}}},
     {"mark": {"type": "rule", "color": "#cccccc", "strokeWidth": 2}, "encoding": {"x": {"value": -24}, "x2": {"value": 355}, "y": {"value": 203.3}}},
     {"mark": {"type": "text", "text": "Source: CRU, Goldman Sachs Global Investment Research", "font": "Lato", "fontSize": 12.3, "align": "left", "baseline": "alphabetic", "color": "#333333"}, "encoding": {"x": {"value": -24}, "y": {"value": 222}}},
     {"mark": {"type": "rule", "opacity": 0}, "encoding": {"y": {"datum": 0, "type": "quantitative", "axis": {"orient": "right", "values": [-12, -9, -6, -3, 0, 3, 6, 9], "labelExpr": "toString(datum.value)", "title": null}}}},
     {
      "data": {"values": [
       {"q": "2Q 2021", "v": -12}, {"q": "3Q 2021", "v": -4.9}, {"q": "4Q 2021", "v": 1.1}, {"q": "1Q 2022", "v": -3.2}, {"q": "2Q 2022", "v": 2.3}, {"q": "3Q 2022", "v": 5.26}, {"q": "4Q 2022", "v": 3.74}, {"q": "1Q 2023", "v": 6.04}, {"q": "2Q 2023", "v": 3.2}, {"q": "3Q 2023", "v": 2.65}, {"q": "4Q 2023", "v": 5.9}, {"q": "1Q 2024", "v": 0.7}, {"q": "2Q 2024", "v": -0.48}, {"q": "3Q 2024", "v": 6.78}, {"q": "4Q 2024", "v": 7.39}, {"q": "1Q 2025", "v": 5.52}, {"q": "2Q 2025", "v": 9}, {"q": "3Q 2025", "v": 9}, {"q": "4Q 2025", "v": 2.87}
      ]},
      "mark": {"type": "bar", "color": "#0b2d5b"},
      "encoding": {
       "x": {"field": "q", "type": "ordinal", "sort": null, "scale": {"paddingInner": 0.45, "paddingOuter": 0.3}, "axis": {"values": ["2Q 2021", "4Q 2021", "2Q 2022", "4Q 2022", "2Q 2023", "4Q 2023", "2Q 2024", "4Q 2024", "2Q 2025", "4Q 2025"], "ticks": false, "domain": false, "labelAngle": 0, "title": null, "labelPadding": 5, "labelOverlap": false}},
       "y": {"field": "v", "type": "quantitative", "scale": {"domain": [-12, 9], "nice": false}, "axis": {"orient": "left", "values": [-12, -9, -6, -3, 0, 3, 6, 9], "labelExpr": "toString(datum.value)", "title": null}}
      }
     }
    ]
   }
  ]
 }
]
}
